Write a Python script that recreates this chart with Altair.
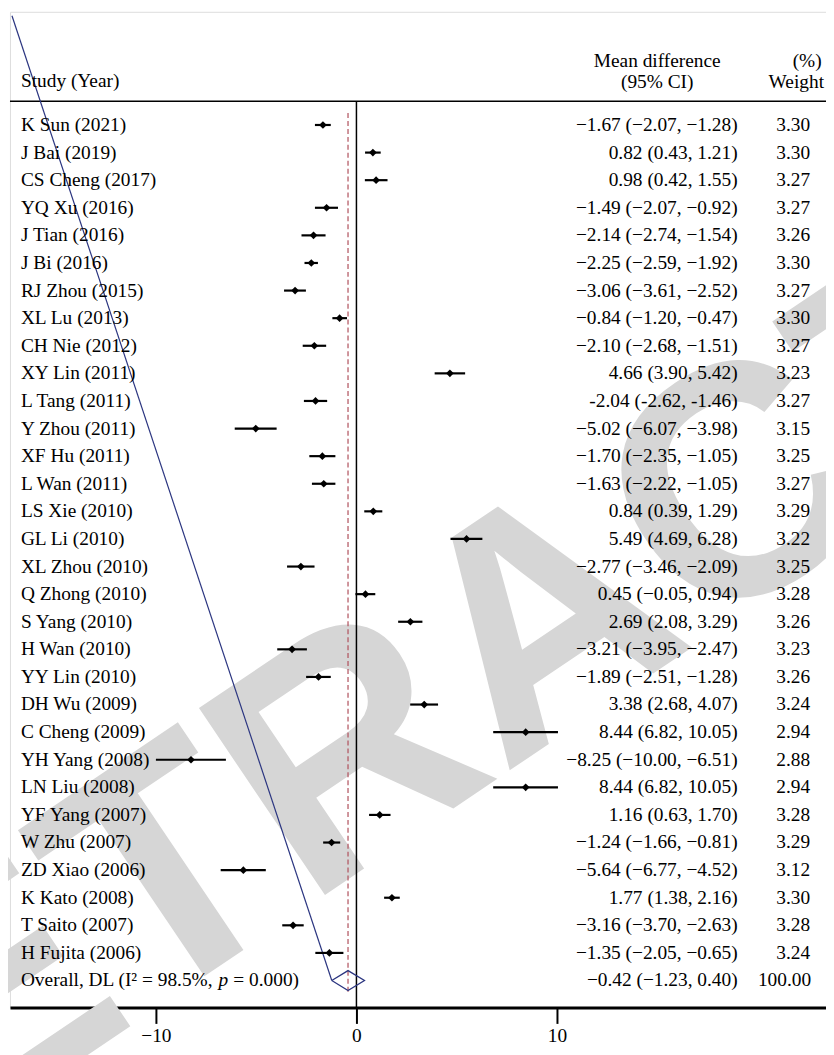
import altair as alt
import pandas as pd

studies = ["K Sun (2021)", "J Bai (2019)", "CS Cheng (2017)", "YQ Xu (2016)", "J Tian (2016)",
           "J Bi (2016)", "RJ Zhou (2015)", "XL Lu (2013)", "CH Nie (2012)", "XY Lin (2011)",
           "L Tang (2011)", "Y Zhou (2011)", "XF Hu (2011)", "L Wan (2011)", "LS Xie (2010)",
           "GL Li (2010)", "XL Zhou (2010)", "Q Zhong (2010)", "S Yang (2010)", "H Wan (2010)",
           "YY Lin (2010)", "DH Wu (2009)", "C Cheng (2009)", "YH Yang (2008)", "LN Liu (2008)",
           "YF Yang (2007)", "W Zhu (2007)", "ZD Xiao (2006)", "K Kato (2008)", "T Saito (2007)",
           "H Fujita (2006)"]
mean_diff = [-1.67, 0.82, 0.98, -1.49, -2.14, -2.25, -3.06, -0.84, -2.10, 4.66, -2.04, -5.02,
             -1.70, -1.63, 0.84, 5.49, -2.77, 0.45, 2.69, -3.21, -1.89, 3.38, 8.44, -8.25, 8.44,
             1.16, -1.24, -5.64, 1.77, -3.16, -1.35]
lower = [-2.07, 0.43, 0.42, -2.07, -2.74, -2.59, -3.61, -1.20, -2.68, 3.90, -2.62, -6.07,
         -2.35, -2.22, 0.39, 4.69, -3.46, -0.05, 2.08, -3.95, -2.51, 2.68, 6.82, -10.00, 6.82,
         0.63, -1.66, -6.77, 1.38, -3.70, -2.05]
upper = [-1.28, 1.21, 1.55, -0.92, -1.54, -1.92, -2.52, -0.47, -1.51, 5.42, -1.46, -3.98,
         -1.05, -1.05, 1.29, 6.28, -2.09, 0.94, 3.29, -2.47, -1.28, 4.07, 10.05, -6.51, 10.05,
         1.70, -0.81, -4.52, 2.16, -2.63, -0.65]
weights = ["3.30", "3.30", "3.27", "3.27", "3.26", "3.30", "3.27", "3.30", "3.27", "3.23",
           "3.27", "3.15", "3.25", "3.27", "3.29", "3.22", "3.25", "3.28", "3.26", "3.23",
           "3.26", "3.24", "2.94", "2.88", "2.94", "3.28", "3.29", "3.12", "3.30", "3.28", "3.24"]
ci_labels = ["−1.67 (−2.07, −1.28)", "0.82 (0.43, 1.21)", "0.98 (0.42, 1.55)",
             "−1.49 (−2.07, −0.92)", "−2.14 (−2.74, −1.54)", "−2.25 (−2.59, −1.92)",
             "−3.06 (−3.61, −2.52)", "−0.84 (−1.20, −0.47)", "−2.10 (−2.68, −1.51)",
             "4.66 (3.90, 5.42)", "-2.04 (-2.62, -1.46)", "−5.02 (−6.07, −3.98)",
             "−1.70 (−2.35, −1.05)", "−1.63 (−2.22, −1.05)", "0.84 (0.39, 1.29)",
             "5.49 (4.69, 6.28)", "−2.77 (−3.46, −2.09)", "0.45 (−0.05, 0.94)",
             "2.69 (2.08, 3.29)", "−3.21 (−3.95, −2.47)", "−1.89 (−2.51, −1.28)",
             "3.38 (2.68, 4.07)", "8.44 (6.82, 10.05)", "−8.25 (−10.00, −6.51)",
             "8.44 (6.82, 10.05)", "1.16 (0.63, 1.70)", "−1.24 (−1.66, −0.81)",
             "−5.64 (−6.77, −4.52)", "1.77 (1.38, 2.16)", "−3.16 (−3.70, −2.63)",
             "−1.35 (−2.05, −0.65)"]

overall_md, overall_lo, overall_hi = -0.42, -1.23, 0.40
overall_ci = "−0.42 (−1.23, 0.40)"
overall_weight = "100.00"
overall_parts = ["Overall, DL (I² = 98.5%,", "p", "= 0.000)"]
axis_ticks = [-10, 0, 10]

FONT = "Liberation Serif"
FS = 19.5
W, H = 822, 1003
NAVY = "#2b3580"

n = len(studies)
df = pd.DataFrame({"study": studies, "md": mean_diff, "lo": lower, "hi": upper,
                   "w": weights, "ci": ci_labels, "row": list(range(n))})
ov_row = n
df_ov = pd.DataFrame({"md": [overall_md], "lo": [overall_lo], "hi": [overall_hi],
                      "ci": [overall_ci], "w": [overall_weight], "row": [ov_row]})
half = 0.36
df_dia = pd.DataFrame({"x": [overall_lo, overall_md, overall_hi, overall_md, overall_lo],
                       "row": [ov_row, ov_row - half, ov_row, ov_row + half, ov_row],
                       "o": [0, 1, 2, 3, 4]})
one = pd.DataFrame({"a": [0]})

xscale = alt.Scale(domain=[-17.277, 23.416], nice=False, zero=False)
yscale = alt.Scale(domain=[-4.1007, 31.978], nice=False, zero=False, reverse=True)
xaxis = alt.Axis(values=axis_ticks, title=None, grid=False, labelFont=FONT, labelFontSize=FS,
                 labelColor="black", tickSize=16, tickWidth=2, tickColor="black",
                 domainWidth=3, domainColor="black", labelPadding=3, labelFlush=False)


def X(field):
    return alt.X(field, type="quantitative", scale=xscale, axis=xaxis)


def Y(field="row"):
    return alt.Y(field, type="quantitative", scale=yscale, axis=None)


watermark = alt.Chart(one).mark_text(
    text="RETRACTED", font="Liberation Sans", fontWeight="bold", fontSize=330,
    color="#d6d6d6", angle=326, align="center", baseline="middle"
).encode(x=alt.value(540), y=alt.value(620))

diag = alt.Chart(df_ov).mark_rule(color=NAVY, strokeWidth=1.2).encode(
    x=X("lo"), y=Y(), x2=alt.value(2), y2=alt.value(4))

header_line = alt.Chart(one).mark_rule(color="black", strokeWidth=1.5).encode(
    x=alt.value(0), x2=alt.value(W), y=alt.value(90))

zero_line = alt.Chart(pd.DataFrame({"z": [0]})).mark_rule(color="black", strokeWidth=1.5).encode(
    x=X("z"), y=alt.value(90), y2=alt.value(H))

dash_line = alt.Chart(df_ov).mark_rule(color="#b0505c", strokeWidth=1.2, strokeDash=[5, 3]).encode(
    x=X("md"), y=alt.value(102), y2=alt.value(989))

ci_rules = alt.Chart(df).mark_rule(color="black", strokeWidth=2.2).encode(
    x=X("lo"), x2="hi", y=Y())

points = alt.Chart(df).mark_point(shape="diamond", filled=True, color="black", size=60, opacity=1).encode(
    x=X("md"), y=Y())

diamond = alt.Chart(df_dia).mark_line(color=NAVY, strokeWidth=1.3).encode(
    x=X("x"), y=Y(), order="o:Q")

txt = dict(font=FONT, fontSize=FS, color="black", baseline="middle")

study_text = alt.Chart(df).mark_text(align="left", **txt).encode(
    x=alt.value(11), y=Y(), text="study:N")
ci_text = alt.Chart(df).mark_text(align="right", **txt).encode(
    x=alt.value(733), y=Y(), text="ci:N")
w_text = alt.Chart(df).mark_text(align="right", **txt).encode(
    x=alt.value(806), y=Y(), text="w:N")

ov_ci = alt.Chart(df_ov).mark_text(align="right", **txt).encode(
    x=alt.value(733), y=Y(), text="ci:N")
ov_w = alt.Chart(df_ov).mark_text(align="right", **txt).encode(
    x=alt.value(807), y=Y(), text="w:N")
ov_l1 = alt.Chart(df_ov).mark_text(align="left", text=overall_parts[0], **txt).encode(
    x=alt.value(11), y=Y())
ov_l2 = alt.Chart(df_ov).mark_text(align="left", text=overall_parts[1], fontStyle="italic", **txt).encode(
    x=alt.value(210), y=Y())
ov_l3 = alt.Chart(df_ov).mark_text(align="left", text=overall_parts[2], **txt).encode(
    x=alt.value(225), y=Y())

h_study = alt.Chart(one).mark_text(align="left", text="Study (Year)", **txt).encode(
    x=alt.value(11), y=alt.value(70))
h_md1 = alt.Chart(one).mark_text(align="center", text="Mean difference", **txt).encode(
    x=alt.value(652), y=alt.value(50))
h_md2 = alt.Chart(one).mark_text(align="center", text="(95% CI)", **txt).encode(
    x=alt.value(652), y=alt.value(71))
h_w1 = alt.Chart(one).mark_text(align="center", text="(%)", **txt).encode(
    x=alt.value(803), y=alt.value(50))
h_w2 = alt.Chart(one).mark_text(align="right", text="Weight", **txt).encode(
    x=alt.value(820), y=alt.value(71))

chart = alt.layer(
    watermark, header_line, zero_line, dash_line, diag, ci_rules, points, diamond,
    study_text, ci_text, w_text, ov_ci, ov_w, ov_l1, ov_l2, ov_l3,
    h_study, h_md1, h_md2, h_w1, h_w2
).properties(
    width=W, height=H, autosize="none",
    padding={"left": 2, "top": 0, "right": 0, "bottom": 44}
).configure_view(stroke="black", strokeWidth=1.2).configure(background="white")

chart.save("out.html", embed_options={"renderer": "svg", "actions": False})
